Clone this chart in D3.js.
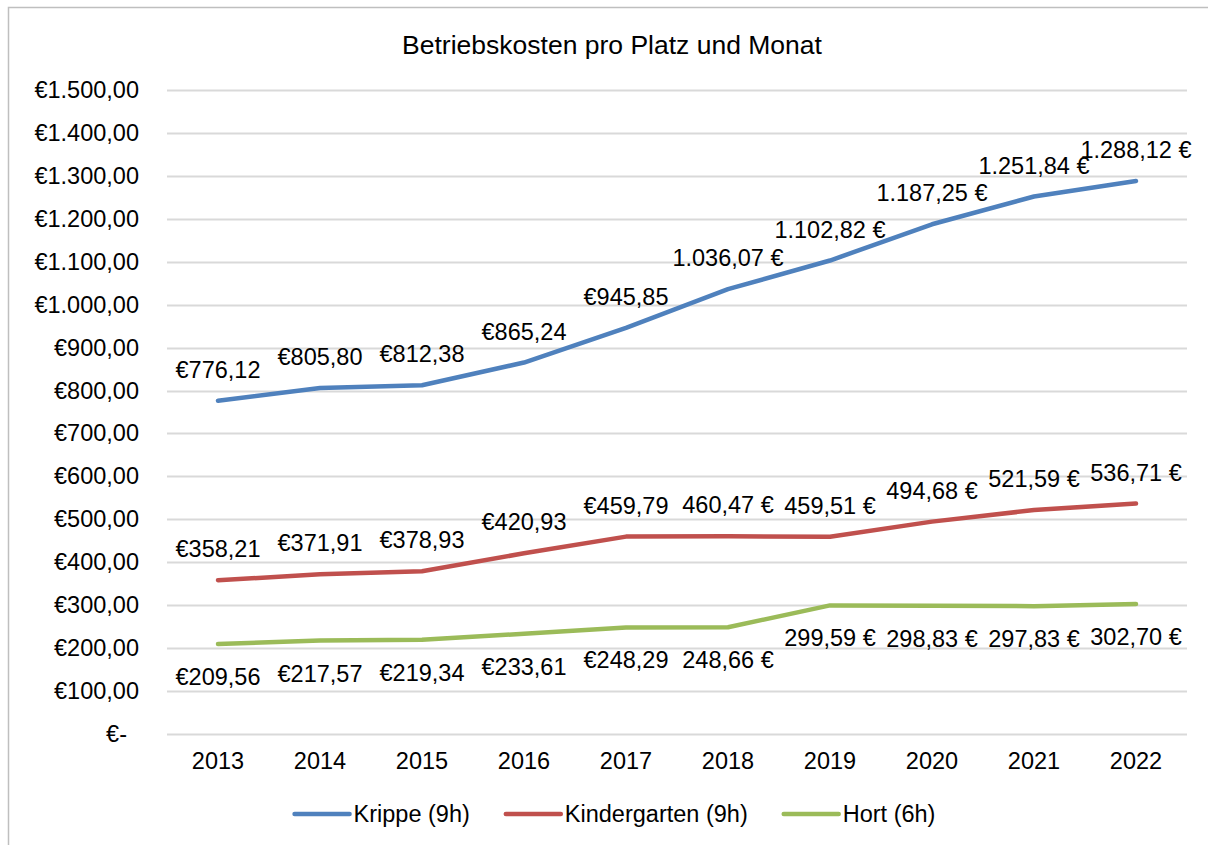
<!DOCTYPE html>
<html>
<head>
<meta charset="utf-8">
<script src="https://cdn.jsdelivr.net/npm/d3@7"></script>
<style>
  body { margin: 0; background: #fff; }
  svg text { font-family: "Liberation Sans", Arial, sans-serif; fill: #000; }
</style>
</head>
<body>
<div id="chart"></div>
<script>
// Data
const years = ["2013", "2014", "2015", "2016", "2017", "2018", "2019", "2020", "2021", "2022"];
const krippe = [776.12, 805.80, 812.38, 865.24, 945.85, 1036.07, 1102.82, 1187.25, 1251.84, 1288.12];
const kindergarten = [358.21, 371.91, 378.93, 420.93, 459.79, 460.47, 459.51, 494.68, 521.59, 536.71];
const hort = [209.56, 217.57, 219.34, 233.61, 248.29, 248.66, 299.59, 298.83, 297.83, 302.70];
const yTicks = [0, 100, 200, 300, 400, 500, 600, 700, 800, 900, 1000, 1100, 1200, 1300, 1400, 1500];
// from 2018 on the sheet used the "1.234,56 €" format
const suffixFrom = { krippe: 5, kindergarten: 5, hort: 5 };

const series = [
    { key: "Krippe (9h)", id: "krippe", values: krippe, color: "#4f81bd", pos: "above" },
    { key: "Kindergarten (9h)", id: "kindergarten", values: kindergarten, color: "#c0504d", pos: "above" },
    { key: "Hort (6h)", id: "hort", values: hort, color: "#9bbb59", pos: "below" }
];

const width = 1208;
const height = 845;
const plot = { left: 167, right: 1187, top: 90, bottom: 734 };
const fontSize = 23.5;

const svg = d3.select("#chart")
    .append("svg")
    .attr("width", width)
    .attr("height", height);

// chart frame (right and bottom edges fall outside the picture)
svg.append("rect")
    .attr("x", 8.5).attr("y", 7.5)
    .attr("width", 1220).attr("height", 860)
    .attr("fill", "white")
    .attr("stroke", "#bfbfbf")
    .attr("stroke-width", 1.5);

const x = d3.scaleBand().domain(years).range([plot.left, plot.right]);
const y = d3.scaleLinear().domain([0, 1500]).range([plot.bottom, plot.top]);

const de = d3.formatLocale({ decimal: ",", thousands: ".", grouping: [3], currency: ["€", ""] });
const num = de.format(",.2f");
const euroFront = v => v === 0 ? "€-" : "€" + num(v);
const euroBack = v => num(v) + " €";

// title
svg.append("text")
    .attr("x", 612).attr("y", 45)
    .attr("text-anchor", "middle")
    .attr("dominant-baseline", "central")
    .style("font-size", "26.5px")
    .text("Betriebskosten pro Platz und Monat");

// gridlines
svg.append("g")
    .selectAll("line")
    .data(yTicks)
    .join("line")
    .attr("x1", plot.left).attr("x2", plot.right)
    .attr("y1", d => Math.round(y(d)) + 0.5)
    .attr("y2", d => Math.round(y(d)) + 0.5)
    .attr("stroke", "#d9d9d9")
    .attr("stroke-width", 2);

// y axis labels
const yAxis = svg.append("g")
    .attr("transform", `translate(${plot.left},0)`)
    .call(d3.axisLeft(y).tickValues(yTicks).tickSize(0).tickPadding(28).tickFormat(euroFront));
yAxis.select(".domain").remove();
yAxis.selectAll("text")
    .style("font-size", fontSize + "px")
    .style("font-family", "'Liberation Sans', Arial, sans-serif")
    .attr("dx", d => d === 0 ? -12 : 0);

// x axis labels
const xAxis = svg.append("g")
    .attr("transform", `translate(0,${plot.bottom})`)
    .call(d3.axisBottom(x).tickSize(0).tickPadding(18));
xAxis.select(".domain").remove();
xAxis.selectAll("text")
    .style("font-size", fontSize + "px")
    .style("font-family", "'Liberation Sans', Arial, sans-serif");

// lines
const line = d3.line()
    .x((d, i) => x(years[i]) + x.bandwidth() / 2)
    .y(d => y(d));

svg.selectAll("path.series")
    .data(series)
    .join("path")
    .attr("class", "series")
    .attr("d", d => line(d.values))
    .attr("fill", "none")
    .attr("stroke", d => d.color)
    .attr("stroke-width", 4.5)
    .attr("stroke-linecap", "round")
    .attr("stroke-linejoin", "round");

// data labels
series.forEach(s => {
    svg.append("g")
        .selectAll("text")
        .data(s.values)
        .join("text")
        .attr("x", (d, i) => x(years[i]) + x.bandwidth() / 2)
        .attr("y", d => y(d) + (s.pos === "above" ? -31 : 33))
        .attr("text-anchor", "middle")
        .attr("dominant-baseline", "central")
        .style("font-size", fontSize + "px")
        .text((d, i) => i >= suffixFrom[s.id] ? euroBack(d) : euroFront(d));
});

// legend
const legendY = 814;
const legend = svg.append("g");
let cursor = 0;
const items = [];
series.forEach(s => {
    const g = legend.append("g");
    g.append("line")
        .attr("x1", 0).attr("x2", 55)
        .attr("y1", legendY).attr("y2", legendY)
        .attr("stroke", s.color)
        .attr("stroke-width", 4.5)
        .attr("stroke-linecap", "round");
    const t = g.append("text")
        .attr("x", 59).attr("y", legendY)
        .attr("dominant-baseline", "central")
        .style("font-size", fontSize + "px")
        .text(s.key);
    const w = 59 + t.node().getComputedTextLength();
    g.attr("transform", `translate(${cursor},0)`);
    cursor += w + 36;
});
const legendWidth = cursor - 36;
legend.attr("transform", `translate(${615 - legendWidth / 2},0)`);
</script>
</body>
</html>
